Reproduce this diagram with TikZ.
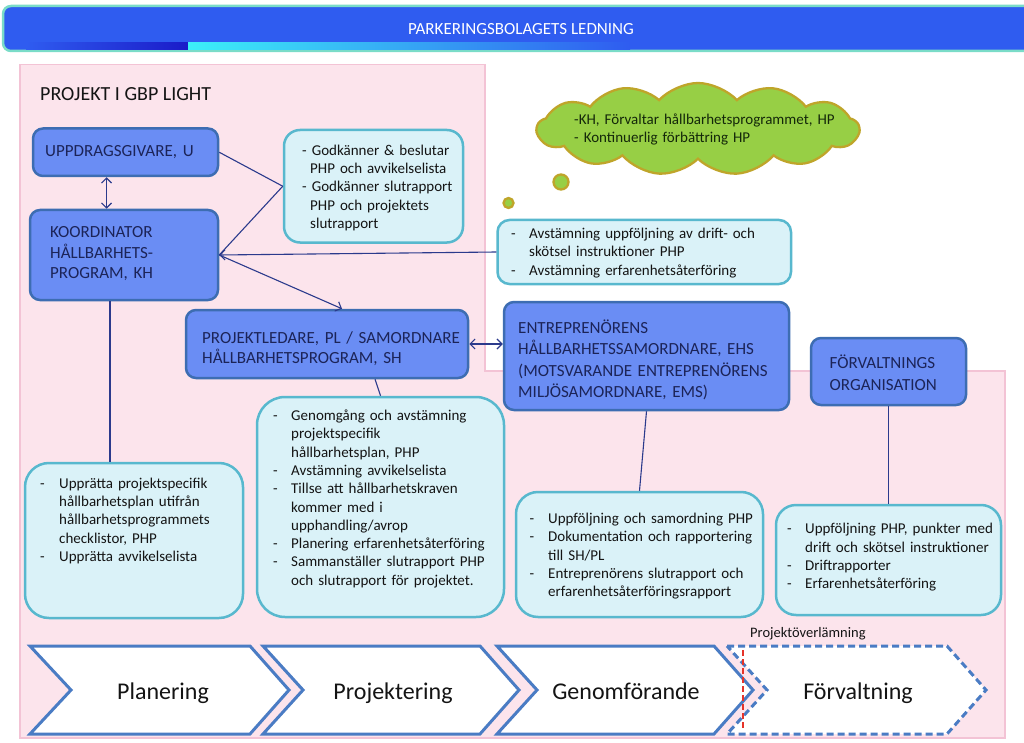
\documentclass[tikz,border=0pt]{standalone}
\usepackage{fontspec}
\setmainfont{Carlito}
\usetikzlibrary{shapes.symbols,arrows.meta}
\definecolor{pinkf}{HTML}{FCE4EC}
\definecolor{pinkd}{HTML}{F3C3D5}
\definecolor{darkf}{HTML}{6A8DF4}
\definecolor{darkd}{HTML}{3D6DB2}
\definecolor{lightf}{HTML}{DAF2F8}
\definecolor{lightd}{HTML}{58B8CE}
\definecolor{navy}{HTML}{1C2458}
\definecolor{conn}{HTML}{2B3A8C}
\definecolor{bannerf}{HTML}{2F5CF0}
\definecolor{bannerd}{HTML}{7ADCC8}
\definecolor{stripdark}{HTML}{1A1AC8}
\definecolor{stripcyan}{HTML}{3CF0F8}
\definecolor{cloudf}{HTML}{97CF45}
\definecolor{cloudd}{HTML}{BFA52A}
\definecolor{chevd}{HTML}{4A7CC4}
\definecolor{redline}{HTML}{E5332A}
\definecolor{txtc}{HTML}{141414}
\definecolor{cloudtxt}{HTML}{14280A}
\newcommand{\mydash}[1]{\makebox[#1][l]{-}}
\newcommand{\myind}[1]{\hspace*{#1}}
\begin{document}
\begin{tikzpicture}[x=1pt,y=-1pt,
  darkbox/.style={draw=darkd,fill=darkf,line width=2.5pt,rounded corners=10pt,inner sep=0pt},
  lightbox/.style={draw=lightd,fill=lightf,line width=2.5pt,rounded corners=18pt,inner sep=0pt},
  dtext/.style={anchor=base west,inner sep=0pt,align=left,text width=330pt,text=navy,font=\fontsize{17}{21}\selectfont},
  ltext/.style={anchor=base west,inner sep=0pt,align=left,text width=330pt,text=txtc,font=\fontsize{15}{18.3}\selectfont},
  chev/.style={draw=chevd,fill=white,line width=3pt,line join=miter},
  chevtext/.style={anchor=base,inner sep=0pt,text=txtc,font=\fontsize{24}{28}\selectfont},
  conn/.style={draw=conn,line width=1.1pt},
  >={Straight Barb[length=5pt,width=10pt]}
]
\useasboundingbox (0,0) rectangle (1024,743);
\fill[white] (0,0) rectangle (1024,743);

% banner
\draw[bannerd,fill=bannerf,line width=2.5pt,rounded corners=8pt] (3,6) rectangle (1034,51);
\shade[left color=bannerf,right color=stripdark] (26,42.5) rectangle (190,49.5);
\shade[left color=stripcyan,right color=bannerf] (188,42.5) rectangle (630,49.5);
\node[anchor=base,inner sep=0pt,text=white,font=\fontsize{17}{20}\selectfont] (banner) at (521,34.5) {PARKERINGSBOLAGETS LEDNING};

% pink area
\draw[pinkd,fill=pinkf,line width=1.5pt] (20,64.5) -- (485,64.5) -- (485,371) -- (1005,371) -- (1005,738) -- (20,738) -- cycle;

\node[anchor=base west,inner sep=0pt,text=txtc,font=\fontsize{20}{24}\selectfont] (title) at (40,100.7) {PROJEKT I GBP LIGHT};

% cloud
\node[cloud,cloud puffs=13,cloud puff arc=95,aspect=3.2,fill=cloudf,draw=cloudd,line width=2.3pt,minimum width=322pt,minimum height=92pt,inner sep=0pt] (cloud) at (698,129) {};
\node[circle,fill=cloudf,draw=cloudd,line width=2.3pt,minimum size=15pt,inner sep=0pt] (c1) at (561,182) {};
\node[circle,fill=cloudf,draw=cloudd,line width=2.3pt,minimum size=10pt,inner sep=0pt] (c2) at (508.5,203) {};
\node[ltext,text=cloudtxt] (cloudtxt) at (574,124.5) {-KH, Förvaltar hållbarhetsprogrammet, HP\\- Kontinuerlig förbättring HP};

% dark boxes
\node[darkbox,minimum width=185pt,minimum height=47.5pt] (u) at (125.5,152.25) {};
\node[darkbox,minimum width=188pt,minimum height=90pt] (kh) at (124,255) {};
\node[darkbox,minimum width=282pt,minimum height=68pt] (pl) at (327,344) {};
\node[darkbox,minimum width=285pt,minimum height=108pt] (ehs) at (646.5,356) {};
\node[darkbox,minimum width=155pt,minimum height=67pt] (forv) at (888.5,371.5) {};

\node[dtext] (utxt) at (45,156.2) {UPPDRAGSGIVARE, U};
\node[dtext,font=\fontsize{17}{20.5}\selectfont] (khtxt) at (50,237.8) {KOORDINATOR\\HÅLLBARHETS-\\PROGRAM, KH};
\node[dtext,font=\fontsize{17}{20.6}\selectfont] (pltxt) at (202,343.2) {PROJEKTLEDARE, PL / SAMORDNARE\\HÅLLBARHETSPROGRAM, SH};
\node[dtext,font=\fontsize{17}{21.3}\selectfont] (ehstxt) at (518,333.5) {ENTREPRENÖRENS\\HÅLLBARHETSSAMORDNARE, EHS\\(MOTSVARANDE ENTREPRENÖRENS\\MILJÖSAMORDNARE, EMS)};
\node[dtext,font=\fontsize{17}{22}\selectfont] (forvtxt) at (829.5,368.5) {FÖRVALTNINGS\\ORGANISATION};

% light boxes
\node[lightbox,rounded corners=16pt,minimum width=179pt,minimum height=112.5pt] (g1) at (373.5,186.25) {};
\node[lightbox,rounded corners=12pt,minimum width=293.5pt,minimum height=64pt] (a1) at (644.25,252) {};
\node[lightbox,rounded corners=24pt,minimum width=218pt,minimum height=155pt] (b1) at (134,540.5) {};
\node[lightbox,rounded corners=28pt,minimum width=247pt,minimum height=220pt] (b2) at (380.5,507) {};
\node[lightbox,rounded corners=22pt,minimum width=247pt,minimum height=125pt] (b3) at (639.5,554.5) {};
\node[lightbox,rounded corners=20pt,minimum width=225pt,minimum height=110pt] (b4) at (888.5,560) {};

\node[ltext] (g1txt) at (302,155.2) {- Godkänner \& beslutar\\\myind{8pt}PHP och avvikelselista\\- Godkänner slutrapport\\\myind{8pt}PHP och projektets\\\myind{8pt}slutrapport};
\node[ltext] (a1txt) at (511,238.5) {\mydash{18pt}Avstämning uppföljning av drift- och\\\myind{18pt}skötsel instruktioner PHP\\\mydash{18pt}Avstämning erfarenhetsåterföring};
\node[ltext] (b1txt) at (40,488.2) {\mydash{19pt}Upprätta projektspecifik\\\myind{19pt}hållbarhetsplan utifrån\\\myind{19pt}hållbarhetsprogrammets\\\myind{19pt}checklistor, PHP\\\mydash{19pt}Upprätta avvikelselista};
\node[ltext] (b2txt) at (273,420.5) {\mydash{18pt}Genomgång och avstämning\\\myind{18pt}projektspecifik\\\myind{18pt}hållbarhetsplan, PHP\\\mydash{18pt}Avstämning avvikelselista\\\mydash{18pt}Tillse att hållbarhetskraven\\\myind{18pt}kommer med i\\\myind{18pt}upphandling/avrop\\\mydash{18pt}Planering erfarenhetsåterföring\\\mydash{18pt}Sammanställer slutrapport PHP\\\myind{18pt}och slutrapport för projektet.};
\node[ltext] (b3txt) at (529.5,523.5) {\mydash{18.5pt}Uppföljning och samordning PHP\\\mydash{18.5pt}Dokumentation och rapportering\\\myind{18.5pt}till SH/PL\\\mydash{18.5pt}Entreprenörens slutrapport och\\\myind{18.5pt}erfarenhetsåterföringsrapport};
\node[ltext] (b4txt) at (787,533.8) {\mydash{18pt}Uppföljning PHP, punkter med\\\myind{18pt}drift och skötsel instruktioner\\\mydash{18pt}Driftrapporter\\\mydash{18pt}Erfarenhetsåterföring};

% connectors
\draw[conn,<->] ([xshift=-19pt]u.south) -- ([xshift=-19pt]u.south |- kh.north);
\draw[conn] (u.east) -- (g1.west);
\draw[conn] (kh.east) -- (g1.west);
\draw[conn,->] (a1.west) -- (kh.east);
\draw[conn,->] (kh.east) -- ([xshift=15pt]pl.north);
\draw[conn] ([xshift=-14pt]kh.south) -- ([xshift=-14pt]kh.south |- b1.north);
\draw[conn] ([xshift=48pt]pl.south) -- (b2.north);
\draw[conn,<->] (pl.east) -- (pl.east -| ehs.west);
\draw[conn] (ehs.south) -- (b3.north);
\draw[conn] (forv.south) -- (b4.north);

% phases
\draw[chev] (30,646) -- (250,646) -- (289,690) -- (250,734) -- (30,734) -- (71,690) -- cycle;
\draw[chev] (263,646) -- (480,646) -- (519,690) -- (480,734) -- (263,734) -- (303,690) -- cycle;
\draw[chev] (497,646) -- (714,646) -- (753,690) -- (714,734) -- (497,734) -- (537,690) -- cycle;
\draw[chev,dash pattern=on 7pt off 4pt] (727,646) -- (947,646) -- (986,690) -- (947,734) -- (727,734) -- (767,690) -- cycle;
\draw[redline,line width=1.2pt,dash pattern=on 6pt off 3pt] (743,650) -- (743,728);

\node[chevtext] (p1) at (163,699) {Planering};
\node[chevtext] (p2) at (393,699) {Projektering};
\node[chevtext] (p3) at (626,699) {Genomförande};
\node[chevtext] (p4) at (858,699) {Förvaltning};
\node[anchor=base west,inner sep=0pt,text=txtc,font=\fontsize{14.5}{17}\selectfont] (overl) at (750,637.5) {Projektöverlämning};
\end{tikzpicture}
\end{document}
